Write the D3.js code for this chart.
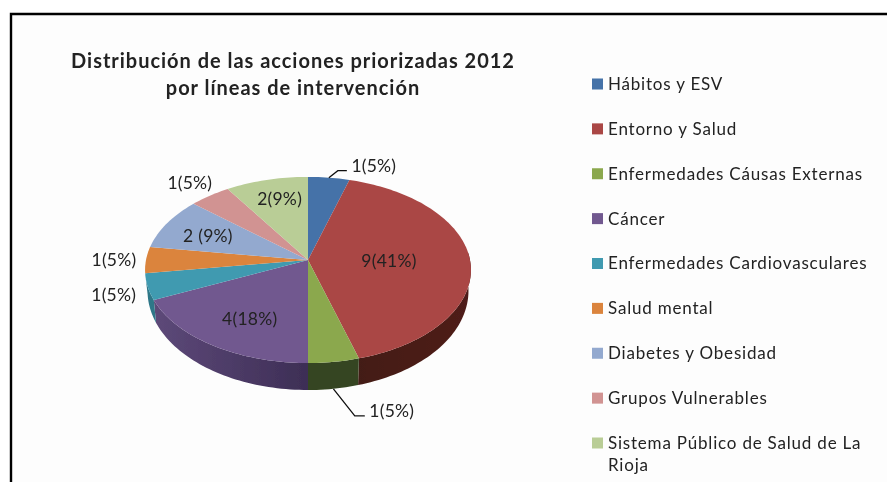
<!DOCTYPE html>
<html><head><meta charset="utf-8">
<script src="https://cdnjs.cloudflare.com/ajax/libs/d3/7.8.5/d3.min.js"></script>
<style>html,body{margin:0;padding:0;background:#fff;overflow:hidden}svg{display:block}text{font-family:Lato,"Open Sans",sans-serif;fill:#222}</style>
</head><body><svg id="c" width="887" height="482"></svg>
<script>
const categories = ["Hábitos y ESV","Entorno y Salud","Enfermedades Cáusas Externas","Cáncer","Enfermedades Cardiovasculares","Salud mental","Diabetes y Obesidad","Grupos Vulnerables","Sistema Público de Salud de La Rioja"];
const values = [1,9,1,4,1,1,2,1,2];
const labels = ["1(5%)","9(41%)","1(5%)","4(18%)","1(5%)","1(5%)","2 (9%)","1(5%)","2(9%)"];
const colors = ["#4472a8","#aa4644","#8ba84e","#71588f","#3f9ab0","#db843d","#93a9cf","#d19392","#b9cd96"];
const wallFrom = ["#333","#431a14","#344520","#5d4979","#2d7788","#a5622c","#333","#333","#333"];
const wallTo = ["#333","#4f1f1a","#344520","#3d2e55","#2d7788","#a5622c","#333","#333","#333"];
const labelOffsets = [[45,-12],[-81,1],[58,49],[38,-26],[-34,8],[-32,0],[41,12],[-20,-13],[13,19]];
const titleLines = ["Distribución de las acciones priorizadas 2012","por líneas de intervención"];

const svg = d3.select("#c");
const cx=308, cy=260, rx=162, ry=92, persp=0.107;
const rim = a => {
  const w = 1 + persp*Math.cos(a);
  return [cx + rx*Math.sin(a)/w, cy - ry*Math.cos(a)/w];
};
const depth = a => 20 + 7*Math.max(0,-Math.cos(a));
const low = a => { const [x,y]=rim(a); return [cx+(x-cx)*0.985, y+depth(a)]; };
const arcs = d3.pie().sort(null).value(d=>d)(values);
const line = d3.line();
const samples = (a0,a1) => { const n=Math.max(2,Math.ceil((a1-a0)*40)); return d3.range(n+1).map(i=>a0+(a1-a0)*i/n); };

svg.append("rect").attr("x",11).attr("y",14).attr("width",876).attr("height",468).attr("fill","#fdfdfd").attr("stroke","none");
const soft = svg.append("defs");
const blur = soft.append("filter").attr("id","soft").attr("x","-5%").attr("y","-5%").attr("width","110%").attr("height","110%");
blur.append("feGaussianBlur").attr("stdDeviation",0.45);
svg.append("path").attr("d",line([[11,482],[11,14],[887,14]])).attr("fill","none").attr("stroke","#000").attr("stroke-width",2.4);

const art = svg.append("g").attr("filter","url(#soft)");
// walls
const wallMin = 85*Math.PI/180, wallMax = 262*Math.PI/180;
arcs.forEach((d,i)=>{
  const a0=Math.max(d.startAngle,wallMin), a1=Math.min(d.endAngle,wallMax);
  if(a1<=a0) return;
  const s=samples(a0,a1);
  const pts=s.map(rim).concat(s.slice().reverse().map(low));
  const xs=pts.map(p=>p[0]);
  const g=soft.append("linearGradient").attr("id","w"+i).attr("gradientUnits","userSpaceOnUse")
    .attr("x1",d3.min(xs)).attr("x2",d3.max(xs)).attr("y1",0).attr("y2",0);
  g.append("stop").attr("offset",0).attr("stop-color",wallFrom[i]);
  g.append("stop").attr("offset",1).attr("stop-color",wallTo[i]);
  art.append("path").attr("d",line(pts)+"Z").attr("fill",`url(#w${i})`);
});
// top faces
arcs.forEach((d,i)=>{
  const pts=[[cx,cy]].concat(samples(d.startAngle,d.endAngle).map(rim));
  art.append("path").attr("d",line(pts)+"Z").attr("fill",colors[i]);
});
// leader lines and labels
const mid = d => (d.startAngle+d.endAngle)/2;
const [b0,b1]=[rim(mid(arcs[0])),labelOffsets[0]];
const bLab=[b0[0]+b1[0],b0[1]+b1[1]];
art.append("path").attr("d",line([[b0[0],b0[1]],[bLab[0]-36,bLab[1]+5],[bLab[0]-27,bLab[1]+5]])).attr("fill","none").attr("stroke","#111").attr("stroke-width",1.3);
const g0=low(mid(arcs[2])), g1=rim(mid(arcs[2])), gOff=labelOffsets[2];
const gLab=[g1[0]+gOff[0],g1[1]+gOff[1]];
art.append("path").attr("d",line([g0,[gLab[0]-37,gLab[1]+5],[gLab[0]-27,gLab[1]+5]])).attr("fill","none").attr("stroke","#111").attr("stroke-width",1.3);
arcs.forEach((d,i)=>{
  const p=rim(mid(d));
  art.append("text").attr("x",p[0]+labelOffsets[i][0]).attr("y",p[1]+labelOffsets[i][1]).attr("dy","0.35em")
    .attr("text-anchor","middle").attr("font-size",17.5).attr("letter-spacing",0.25).text(labels[i]);
});
// title
titleLines.forEach((t,i)=>art.append("text").attr("x",293).attr("y",68+i*27).attr("text-anchor","middle")
  .attr("font-size",20).attr("font-weight",700).attr("letter-spacing",0.98).attr("fill","#111").text(t));
// legend
const legendY=d3.scalePoint().domain(categories).range([84,443]);
categories.forEach((c,i)=>{
  const y=legendY(c);
  art.append("rect").attr("x",592).attr("y",y-5.5).attr("width",11).attr("height",11).attr("fill",colors[i]);
  const words=c==="Sistema Público de Salud de La Rioja"?["Sistema Público de Salud de La","Rioja"]:[c];
  words.forEach((w,j)=>art.append("text").attr("x",608).attr("y",y+j*22).attr("dy","0.35em")
    .attr("font-size",17).attr("letter-spacing",0.8).attr("fill","#2a2a2a").text(w));
});
</script></body></html>
